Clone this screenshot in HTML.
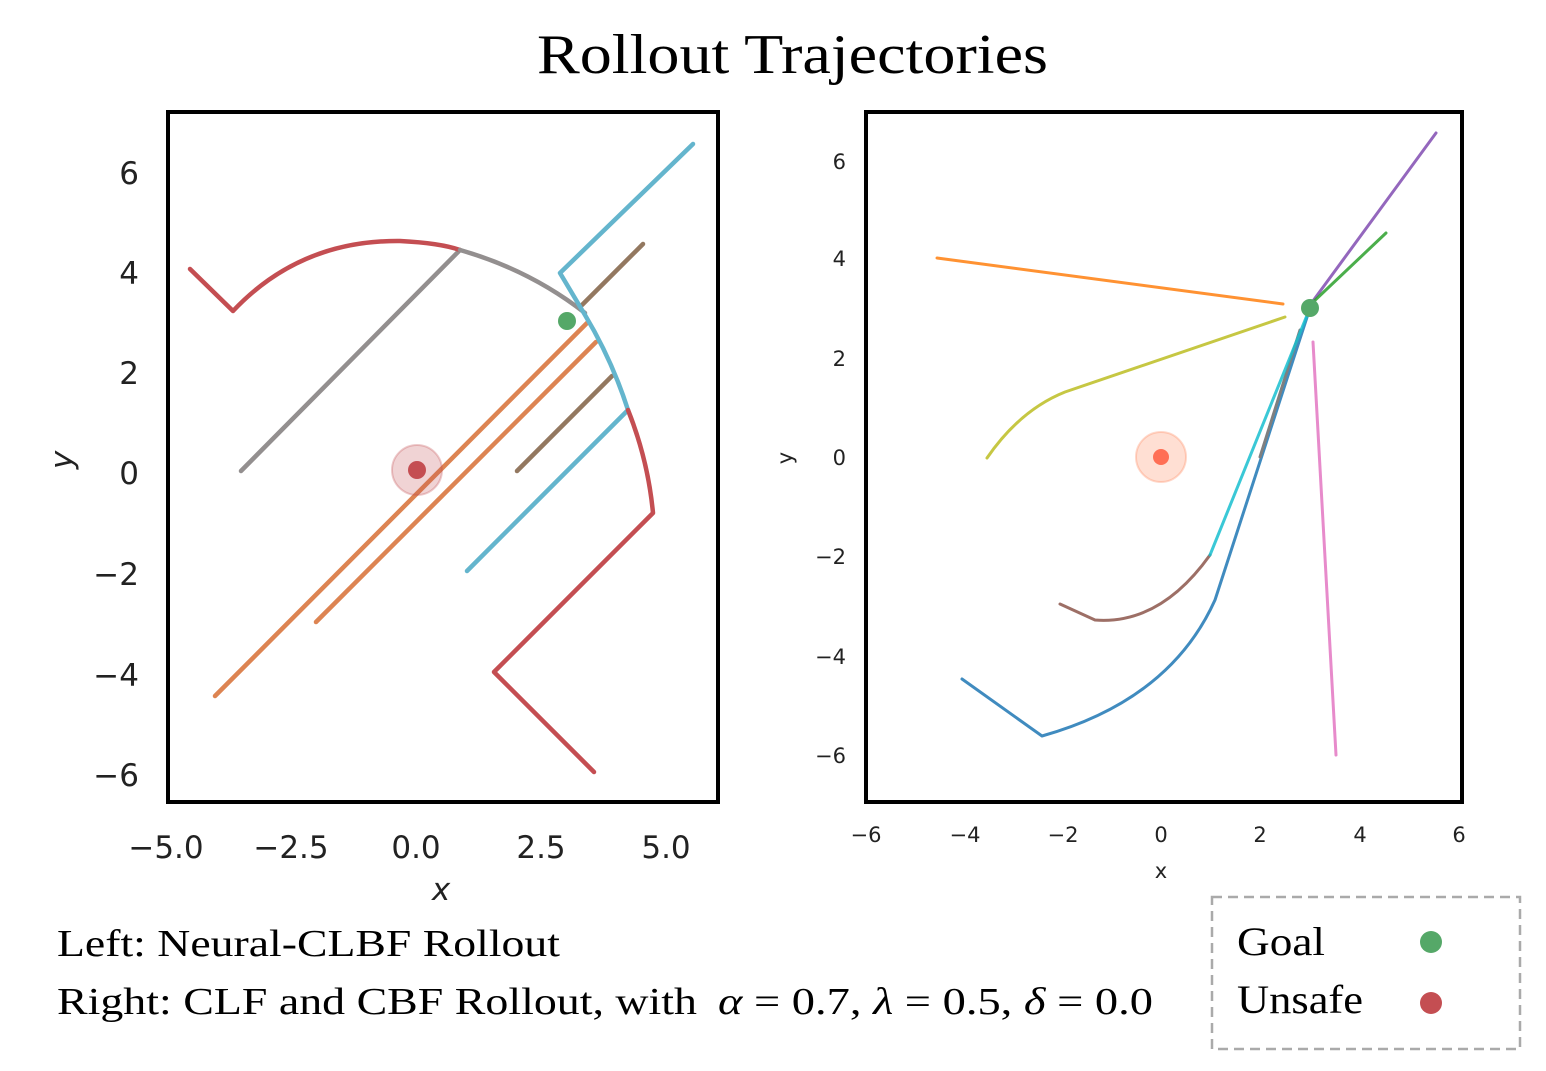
<!DOCTYPE html>
<html><head><meta charset="utf-8"><style>
html,body{margin:0;padding:0;background:#fff;}
</style></head><body>
<svg width="1546" height="1066" xmlns="http://www.w3.org/2000/svg">
<rect width="1546" height="1066" fill="#fff"/>
<text x="537" y="73" textLength="511" lengthAdjust="spacingAndGlyphs" font-family="Liberation Serif, serif" font-size="56">Rollout Trajectories</text>

<!-- LEFT PLOT -->
<g fill="none" stroke-width="4.5" stroke-linecap="round" stroke-linejoin="round">
<path d="M241,471 L460,250" stroke="#938f8f"/>
<path d="M215,696 L587,323" stroke="#dd8452"/>
<path d="M316,622 L596,342" stroke="#dd8452"/>
<path d="M643,244 L582,305" stroke="#937860"/>
<path d="M517,471 L612,376" stroke="#937860"/>
<path d="M190,269 L233,311 Q300,240 400,241 Q440,243 460,250" stroke="#c44e52"/>
<path d="M460,250 Q530,270 585,313" stroke="#938f8f"/>
<path d="M693,144 L560,273 L585,315 Q612,360 628,410 L467,571" stroke="#64b5cd"/>
<path d="M628,410 Q648,460 653,513 L494,672 L594,772" stroke="#c44e52"/>
</g>
<circle cx="417" cy="470" r="25" fill="#c44e52" fill-opacity="0.25" stroke="#c44e52" stroke-opacity="0.3" stroke-width="2"/>
<circle cx="417" cy="470" r="9" fill="#c44e52"/>
<circle cx="567" cy="321" r="9" fill="#55a868"/>
<rect x="168" y="112" width="550" height="690" fill="none" stroke="#000" stroke-width="4"/>
<g font-family="DejaVu Sans, Liberation Sans, sans-serif" font-size="31" fill="#222">
<g text-anchor="end">
<text x="139" y="184">6</text><text x="139" y="284">4</text><text x="139" y="384">2</text>
<text x="139" y="484">0</text><text x="139" y="585">−2</text><text x="139" y="686">−4</text><text x="139" y="786">−6</text>
</g>
<g text-anchor="middle">
<text x="166" y="858">−5.0</text><text x="291" y="858">−2.5</text><text x="416" y="858">0.0</text>
<text x="541" y="858">2.5</text><text x="666" y="858">5.0</text>
</g>
<text x="441" y="900" text-anchor="middle" font-style="italic">x</text>
<text transform="translate(72,460) rotate(-90)" text-anchor="middle" font-style="italic">y</text>
</g>

<!-- RIGHT PLOT -->
<g fill="none" stroke-width="3" stroke-linecap="round" stroke-linejoin="round">
<path d="M937,258 L1283,304" stroke="#ff7f0e" stroke-opacity="0.85"/>
<path d="M987,458 Q1020,410 1065,392 L1285,317" stroke="#bcbd22" stroke-opacity="0.85"/>
<path d="M1310,305 L1436,133" stroke="#9467bd"/>
<path d="M1310,305 L1386,233" stroke="#2ca02c" stroke-opacity="0.85"/>
<path d="M1313,342 L1336,755" stroke="#e377c2" stroke-opacity="0.85"/>
<path d="M962,679 L1042,736 Q1170,700 1215,600 L1310,308" stroke="#1f77b4" stroke-opacity="0.85"/>
<path d="M1260,457 L1300,330" stroke="#7f7f7f"/>
<path d="M1060,604 L1095,620 Q1160,625 1210,555" stroke="#8c564b" stroke-opacity="0.85"/>
<path d="M1210,555 L1310,308" stroke="#17becf" stroke-opacity="0.85"/>
</g>
<circle cx="1161" cy="457" r="25" fill="#ff7f50" fill-opacity="0.25" stroke="#ff7f50" stroke-opacity="0.3" stroke-width="2"/>
<circle cx="1161" cy="457" r="8" fill="#ff6347" fill-opacity="0.9"/>
<circle cx="1310" cy="308" r="9" fill="#55a868"/>
<rect x="866" y="112" width="596" height="690" fill="none" stroke="#000" stroke-width="4"/>
<g font-family="DejaVu Sans, Liberation Sans, sans-serif" font-size="21" fill="#222">
<g text-anchor="end">
<text x="846" y="169">6</text><text x="846" y="266">4</text><text x="846" y="366">2</text>
<text x="846" y="465">0</text><text x="846" y="564">−2</text><text x="846" y="664">−4</text><text x="846" y="763">−6</text>
</g>
<g text-anchor="middle">
<text x="866" y="842">−6</text><text x="965" y="842">−4</text><text x="1063" y="842">−2</text>
<text x="1161" y="842">0</text><text x="1260" y="842">2</text><text x="1360" y="842">4</text><text x="1459" y="842">6</text>
<text x="1161" y="878">x</text>
</g>
<text transform="translate(792,458) rotate(-90)" text-anchor="middle">y</text>
</g>

<!-- caption -->
<g font-family="Liberation Serif, serif" font-size="38" fill="#000">
<text x="57" y="956" textLength="503" lengthAdjust="spacingAndGlyphs">Left: Neural-CLBF Rollout</text>
<text x="57" y="1014" textLength="640" lengthAdjust="spacingAndGlyphs">Right: CLF and CBF Rollout, with</text>
<text x="718" y="1014" textLength="435" lengthAdjust="spacingAndGlyphs"><tspan font-style="italic">α</tspan> = 0.7, <tspan font-style="italic">λ</tspan> = 0.5, <tspan font-style="italic">δ</tspan> = 0.0</text>
</g>

<!-- legend -->
<rect x="1212" y="897" width="308" height="152" fill="none" stroke="#aaa" stroke-width="2.5" stroke-dasharray="10,6"/>
<g font-family="Liberation Serif, serif" font-size="40" fill="#000">
<text x="1237" y="955" textLength="88" lengthAdjust="spacingAndGlyphs">Goal</text>
<text x="1237" y="1013" textLength="126" lengthAdjust="spacingAndGlyphs">Unsafe</text>
</g>
<circle cx="1431" cy="942" r="11" fill="#55a868"/>
<circle cx="1431" cy="1003" r="11" fill="#c44e52"/>
</svg>
</body></html>
